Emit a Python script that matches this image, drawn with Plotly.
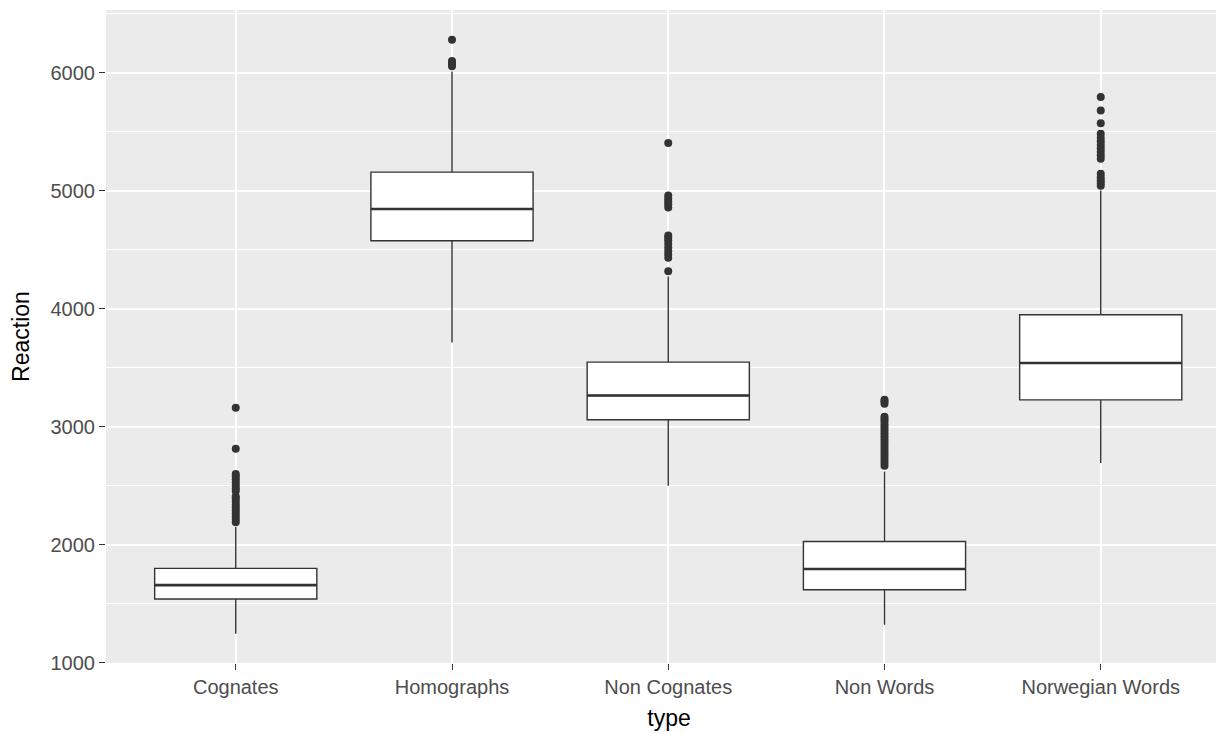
import plotly.graph_objects as go

categories = ["Cognates", "Homographs", "Non Cognates", "Non Words", "Norwegian Words"]
q1 = [1540, 4576, 3059, 1619, 3228]
median = [1658, 4845, 3265, 1794, 3540]
q3 = [1800, 5158, 3548, 2028, 3949]
lower_whisker = [1246, 3714, 2500, 1322, 2692]
upper_whisker = [2150, 6011, 4274, 2621, 5003]

outliers_cognates = [2190, 2215, 2240, 2265, 2290, 2315, 2340, 2365, 2390, 2410,
                     2455, 2480, 2505, 2530, 2555, 2580, 2600, 2814, 3161]
outliers_homographs = [6055, 6070, 6085, 6100, 6280]
outliers_non_cognates = [4318, 4432, 4460, 4490, 4520, 4550, 4580, 4605, 4620,
                         4858, 4885, 4910, 4935, 4960, 5404]
outliers_non_words = [2670, 2695, 2720, 2745, 2770, 2795, 2820, 2845, 2870, 2895,
                      2920, 2945, 2970, 2995, 3020, 3045, 3065, 3085, 3195, 3215, 3229]
outliers_norwegian = [5042, 5065, 5090, 5115, 5144, 5271, 5300, 5330, 5360, 5390,
                      5420, 5450, 5483, 5573, 5681, 5794]

y_ticks = [1000, 2000, 3000, 4000, 5000, 6000]

outlier_lists = [outliers_cognates, outliers_homographs, outliers_non_cognates,
                 outliers_non_words, outliers_norwegian]

INK = "#333333"

fig = go.Figure()

fig.add_trace(go.Box(
    x=categories, q1=q1, median=median, q3=q3,
    lowerfence=lower_whisker, upperfence=upper_whisker,
    fillcolor="white", line=dict(color=INK, width=1.4), whiskerwidth=0,
    boxpoints=False, width=0.75, showlegend=False, hoverinfo="skip",
))
# thicker median line overlay
fig.add_trace(go.Box(
    x=categories, q1=median, median=median, q3=median,
    lowerfence=median, upperfence=median,
    fillcolor="rgba(0,0,0,0)", line=dict(color=INK, width=2.6), whiskerwidth=0,
    boxpoints=False, width=0.75, showlegend=False, hoverinfo="skip",
))

ox, oy = [], []
for cat, vals in zip(categories, outlier_lists):
    ox += [cat] * len(vals)
    oy += vals
fig.add_trace(go.Scatter(
    x=ox, y=oy, mode="markers",
    marker=dict(color=INK, size=8, line=dict(width=0)),
    showlegend=False, hoverinfo="skip",
))

FONT = "Liberation Sans, Arial, sans-serif"

fig.update_layout(
    width=1224, height=734,
    margin=dict(l=98, r=0, t=2, b=79),
    paper_bgcolor="white", plot_bgcolor="#EBEBEB",
    boxmode="overlay",
    font=dict(family=FONT),
    xaxis=dict(
        type="category", categoryorder="array", categoryarray=categories,
        range=[-0.6, 4.607], automargin=False,
        showgrid=True, gridcolor="white", gridwidth=2,
        zeroline=False, showline=False,
        ticks="outside", ticklen=6, tickwidth=1.2, tickcolor=INK,
        tickfont=dict(family=FONT, size=20, color="#4D4D4D"),
        title=dict(text="type", font=dict(family=FONT, size=23, color="black"), standoff=12),
    ),
    yaxis=dict(
        range=[998, 6532], automargin=False,
        tickvals=y_ticks, ticktext=[str(v) for v in y_ticks],
        showgrid=True, gridcolor="white", gridwidth=2,
        minor=dict(tickvals=[1500, 2500, 3500, 4500, 5500, 6500], showgrid=True,
                   gridcolor="white", gridwidth=1, ticklen=0),
        zeroline=False, showline=False,
        ticks="outside", ticklen=6, tickwidth=1.2, tickcolor=INK,
        tickfont=dict(family=FONT, size=20, color="#4D4D4D"),
        title=dict(text="Reaction", font=dict(family=FONT, size=23, color="black"), standoff=16),
    ),
)

fig.write_html("out.html")
